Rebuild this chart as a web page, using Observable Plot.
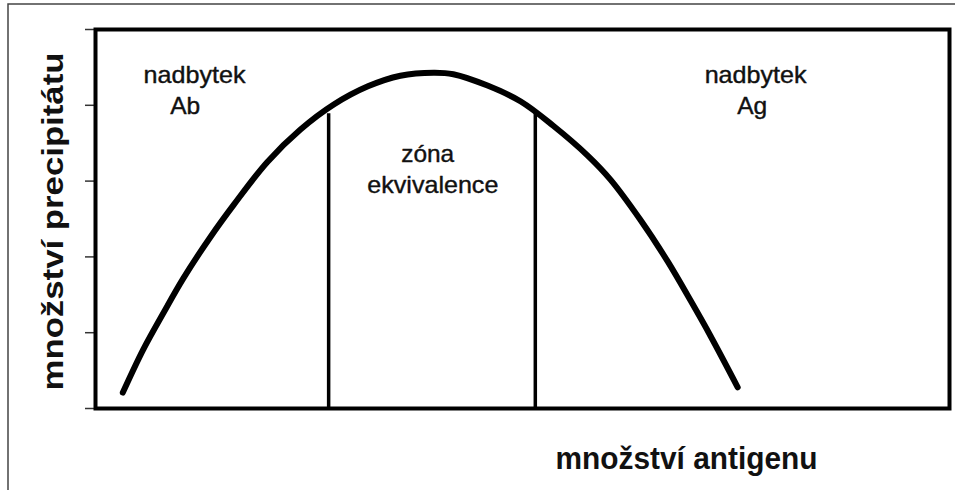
<!DOCTYPE html>
<html>
<head>
<meta charset="utf-8">
<script src="https://cdn.jsdelivr.net/npm/d3@7"></script>
<script src="https://cdn.jsdelivr.net/npm/@observablehq/plot@0.6"></script>
<style>
  html, body { margin: 0; padding: 0; background: white; }
</style>
</head>
<body>
<div id="chart"></div>
<script>
// ---- data ----
const xTitle = "množství antigenu";
const yTitle = "množství precipitátu";

// precipitation curve (x = amount of antigen, y = amount of precipitate)
const curveX = [0.32, 0.56, 0.80, 1.03, 1.35, 1.62, 2.01, 2.40, 2.79, 3.19, 3.57, 3.96,
                4.19, 4.59, 4.98, 5.36, 5.76, 6.03, 6.38, 6.70, 6.97, 7.20, 7.52];
const curveY = [0.21, 0.78, 1.27, 1.72, 2.27, 2.69, 3.25, 3.68, 4.01, 4.25, 4.39, 4.43,
                4.41, 4.26, 4.05, 3.73, 3.34, 3.02, 2.49, 1.94, 1.42, 0.96, 0.28];

// equivalence-zone boundaries
const zoneX = [2.73, 5.15];
const zoneTop = [3.89, 3.89];

// y-axis ticks (no labels)
const yTicks = [0, 1, 2, 3, 4, 5];

// region annotations
const annoText = ["nadbytek", "Ab", "zóna", "ekvivalence", "nadbytek", "Ag"];
const annoX = [1.16, 1.05, 3.89, 3.95, 7.73, 7.69];
const annoY = [4.29, 3.88, 3.25, 2.84, 4.29, 3.89];

// ---- build ----
const curve = curveX.map((x, i) => ({x, y: curveY[i]}));
const zones = zoneX.map((x, i) => ({x, top: zoneTop[i]}));
const annos = annoText.map((t, i) => ({t, x: annoX[i], y: annoY[i]}));

const chart = Plot.plot({
  width: 955,
  height: 490,
  marginLeft: 95,
  marginRight: 6,
  marginTop: 29,
  marginBottom: 82,
  x: {domain: [0, 10], axis: null},
  y: {domain: [0, 5]},
  style: {fontFamily: "'Liberation Sans', Arial, sans-serif", background: "white", color: "black"},
  marks: [
    Plot.axisY(yTicks, {tickSize: 10, tickFormat: () => "", stroke: "#333", strokeWidth: 1.5, label: null}),
    Plot.ruleX(zones, {x: "x", y1: 0, y2: "top", stroke: "black", strokeWidth: 3.5}),
    Plot.line(curve, {x: "x", y: "y", curve: "catmull-rom", stroke: "black", strokeWidth: 6, strokeLinecap: "round"}),
    Plot.frame({stroke: "black", strokeWidth: 4}),
    Plot.text(annos, {x: "x", y: "y", text: "t", fontSize: 24, textAnchor: "middle", lineAnchor: "bottom",
                      fill: "#111", stroke: "#111", strokeWidth: 0.4}),
    Plot.text([xTitle], {frameAnchor: "bottom", textAnchor: "middle", dx: 164, dy: 60, fontSize: 32, fontWeight: "bold",
                         lineAnchor: "bottom", fill: "#111"}),
    Plot.text([yTitle], {frameAnchor: "left", textAnchor: "middle", rotate: -90, dx: -33, dy: 2.5, fontSize: 29,
                         fontWeight: "bold", lineAnchor: "bottom", fill: "#111"})
  ]
});

document.getElementById("chart").appendChild(chart);

// fit text lengths to the reference
const textLengths = new Map([
  [xTitle, 262], [yTitle, 338],
  ["nadbytek", 102], ["Ab", 30], ["zóna", 53], ["ekvivalence", 131], ["Ag", 30]
]);
d3.select(chart).selectAll("text").each(function() {
  const L = textLengths.get(this.textContent);
  if (L) d3.select(this).attr("textLength", L).attr("lengthAdjust", "spacingAndGlyphs");
});

// outer page border (top and left edges)
d3.select(chart).append("path")
  .attr("d", "M8,490V4H955")
  .attr("fill", "none")
  .attr("stroke", "#444")
  .attr("stroke-width", 1.5);
</script>
</body>
</html>
